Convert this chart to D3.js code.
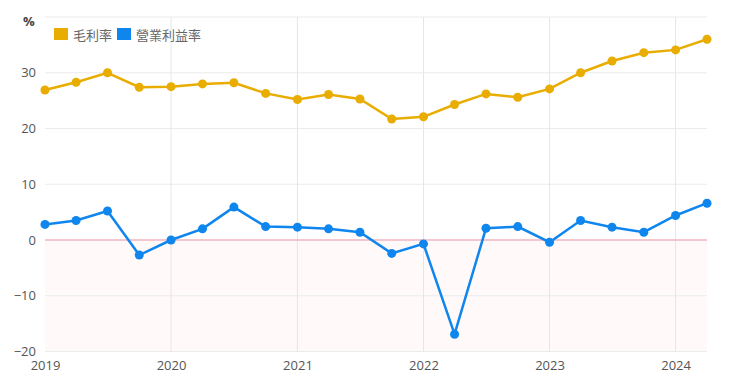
<!DOCTYPE html>
<html>
<head>
<meta charset="utf-8">
<script src="https://cdn.jsdelivr.net/npm/d3@7"></script>
<style>
  body { margin: 0; background: #fff; }
  text { font-family: "Open Sans", "Noto Sans CJK TC", sans-serif; }
</style>
</head>
<body>
<script>
// quarters, 2019Q1 .. 2024Q2
var quarters = ["2019-01","2019-04","2019-07","2019-10","2020-01","2020-04","2020-07","2020-10",
  "2021-01","2021-04","2021-07","2021-10","2022-01","2022-04","2022-07","2022-10",
  "2023-01","2023-04","2023-07","2023-10","2024-01","2024-04"];
var grossMargin = [26.9, 28.3, 30.0, 27.4, 27.5, 28.0, 28.2, 26.3, 25.2, 26.1, 25.3, 21.7,
  22.1, 24.3, 26.2, 25.6, 27.1, 30.0, 32.1, 33.6, 34.1, 36.0];
var opMargin = [2.8, 3.5, 5.2, -2.7, 0.0, 2.0, 5.9, 2.4, 2.3, 2.0, 1.4, -2.4,
  -0.7, -16.9, 2.1, 2.4, -0.4, 3.5, 2.3, 1.4, 4.4, 6.6];
var seriesNames = ["毛利率", "營業利益率"];
var colors = ["#e8ad00", "#0f86ee"];
var yTicks = [-20, -10, 0, 10, 20, 30];

var width = 740, height = 386;
var margin = {left: 45, right: 33, top: 17, bottom: 34.5};
var parse = d3.timeParse("%Y-%m");
var dates = quarters.map(parse);

var svg = d3.select("body").append("svg")
  .attr("width", width).attr("height", height);

var x = d3.scaleTime()
  .domain(d3.extent(dates))
  .range([margin.left, width - margin.right]);
var y = d3.scaleLinear()
  .domain([-20, 40])
  .range([height - margin.bottom, margin.top]);

// negative area shading
svg.append("rect")
  .attr("x", x.range()[0]).attr("y", y(0))
  .attr("width", x.range()[1] - x.range()[0])
  .attr("height", y(-20) - y(0))
  .attr("fill", "#fff9fa");

// horizontal grid
svg.append("g").selectAll("line")
  .data([-20, -10, 10, 20, 30, 40]).enter().append("line")
  .attr("x1", x.range()[0]).attr("x2", x.range()[1])
  .attr("y1", d => y(d)).attr("y2", d => y(d))
  .attr("stroke", "#ebebeb").attr("stroke-width", 1);

// vertical grid on years
var years = x.ticks(d3.timeYear.every(1));
svg.append("g").selectAll("line")
  .data(years.slice(1)).enter().append("line")
  .attr("x1", d => x(d)).attr("x2", d => x(d))
  .attr("y1", y(40)).attr("y2", y(-20))
  .attr("stroke", "#e6e6e6").attr("stroke-width", 1);

// zero line
svg.append("line")
  .attr("x1", x.range()[0]).attr("x2", x.range()[1])
  .attr("y1", y(0)).attr("y2", y(0))
  .attr("stroke", "#f0b4c0").attr("stroke-width", 1.5);

// axes
var yAxis = svg.append("g")
  .attr("transform", "translate(" + (margin.left - 9) + ",0)")
  .call(d3.axisLeft(y).tickValues(yTicks).tickSize(0).tickPadding(0));
yAxis.select(".domain").remove();
yAxis.selectAll("text").attr("fill", "#555").attr("font-size", 13);

var xAxis = svg.append("g")
  .attr("transform", "translate(0," + (height - margin.bottom) + ")")
  .call(d3.axisBottom(x).tickValues(years).tickFormat(d3.timeFormat("%Y")).tickSize(0).tickPadding(9));
xAxis.select(".domain").remove();
xAxis.selectAll("text").attr("fill", "#555").attr("font-size", 13);

svg.append("text").attr("x", 23).attr("y", 26)
  .attr("fill", "#444").attr("font-size", 13).attr("font-weight", "bold").text("%");

// lines
var allSeries = [grossMargin, opMargin];
var line = d3.line().x((d, i) => x(dates[i])).y(d => y(d));
allSeries.forEach(function(vals, k) {
  svg.append("path").datum(vals)
    .attr("d", line).attr("fill", "none")
    .attr("stroke", colors[k]).attr("stroke-width", 2.5);
  svg.append("g").selectAll("circle")
    .data(vals).enter().append("circle")
    .attr("cx", (d, i) => x(dates[i])).attr("cy", d => y(d))
    .attr("r", 4.5).attr("fill", colors[k]);
});

// legend
var legend = svg.append("g").attr("transform", "translate(54,28)");
var lx = 0;
seriesNames.forEach(function(name, k) {
  var g = legend.append("g").attr("transform", "translate(" + lx + ",0)");
  g.append("rect").attr("width", 14).attr("height", 12).attr("fill", colors[k]);
  var t = g.append("text").attr("x", 19).attr("y", 11.5)
    .attr("fill", "#666").attr("font-size", 13)
    .style("font-family", "'Noto Sans CJK TC', sans-serif").text(name);
  lx += 19 + t.node().getComputedTextLength() + 5;
});
</script>
</body>
</html>
